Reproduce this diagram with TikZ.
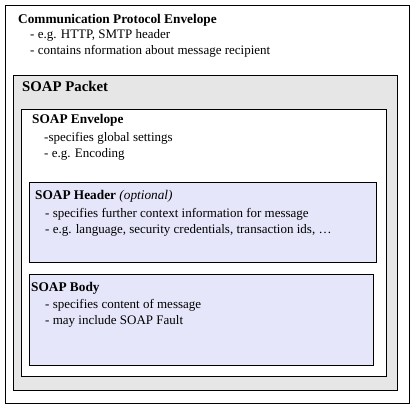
\documentclass[tikz,border=0pt]{standalone}
\usepackage{fontspec}
\setmainfont{Liberation Serif}
\usetikzlibrary{positioning}
\definecolor{packetgray}{RGB}{230,230,230}
\definecolor{headblue}{RGB}{230,230,250}

\begin{document}
\begin{tikzpicture}[x=1pt, y=-1pt,
	box/.style={draw, line width=1pt, anchor=north west, inner sep=0pt},
	title/.style={anchor=base west, inner sep=0pt, font=\fontsize{13.3}{15}\selectfont\bfseries},
	item/.style={anchor=base west, inner sep=0pt, font=\fontsize{13}{15}\selectfont}]
		\useasboundingbox (0, 0) rectangle (417, 409);
		% outer envelope
		\node[box, fill=white, minimum width=404pt, minimum height=398pt] (comm) at (5, 5) {};
		\node[title] (commtitle) at (18, 24) {Communication Protocol Envelope};
		\node[item] (comma) at (30, 39) {- e.g. HTTP, SMTP header};
		\node[item] (commb) at (30, 55) {- contains nformation about message recipient};

		% soap packet
		\node[box, fill=packetgray, minimum width=384pt, minimum height=315pt] (packet) at (13, 75) {};
		\node[title, font=\fontsize{14.8}{16}\selectfont\bfseries] (packettitle) at (22, 92) {SOAP Packet};

		% soap envelope
		\node[box, fill=white, minimum width=365pt, minimum height=267pt] (env) at (21, 109) {};
		\node[title] (envtitle) at (32, 124) {SOAP Envelope};
		\node[item] (enva) at (44, 141) {-specifies global settings};
		\node[item] (envb) at (44, 157) {- e.g. Encoding};

		% header and body
		\node[box, fill=headblue, minimum width=347pt, minimum height=80pt] (header) at (29, 182) {};
		\node[title] (headertitle) at (35, 199) {SOAP Header \textmd{\itshape (optional)}};
		\node[item] (headera) at (45, 217) {- specifies further context information for message};
		\node[item] (headerb) at (45, 233) {- e.g. language, security credentials, transaction ids, \dots};

		\node[box, fill=headblue, minimum width=344pt, minimum height=91pt] (body) at (29, 274) {};
		\node[title] (bodytitle) at (31, 291) {SOAP Body};
		\node[item] (bodya) at (45, 308) {- specifies content of message};
		\node[item] (bodyb) at (45, 324) {- may include SOAP Fault};
	\end{tikzpicture}
\end{document}
